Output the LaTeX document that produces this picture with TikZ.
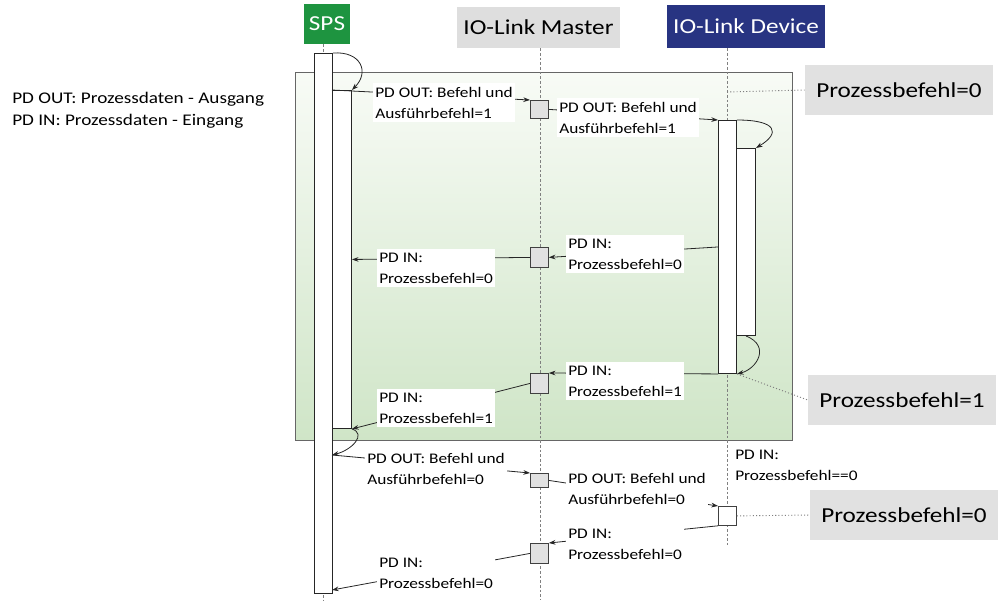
\documentclass[tikz,border=0pt]{standalone}
\usepackage{fontspec}
\setmainfont{Carlito}[FakeStretch=1.18]
\usetikzlibrary{arrows.meta}
\definecolor{spsgreen}{RGB}{30,148,64}
\definecolor{devblue}{RGB}{40,52,130}
\definecolor{hdrgrey}{RGB}{222,222,222}
\definecolor{boxgrey}{RGB}{225,225,225}
\definecolor{gtop}{RGB}{248,251,246}
\definecolor{gbot}{RGB}{207,229,199}
\begin{document}
\begin{tikzpicture}[x=0.75pt,y=-0.75pt,
 hdr/.style={inner sep=0pt, font=\fontsize{16}{19}\selectfont},
 lifeline/.style={draw=gray, line width=0.6pt, dash pattern=on 2pt off 1.5pt},
 bar/.style={draw=black!85, fill=white, line width=0.7pt, inner sep=0pt, anchor=north west},
 mbox/.style={draw=black!75, fill=boxgrey, line width=0.6pt, inner sep=0pt, anchor=north west, minimum width=13.5pt, minimum height=13.5pt},
 lbl/.style={fill=white, align=left, inner xsep=1.5pt, inner ysep=3pt, anchor=base west, font=\fontsize{11}{15.75}\selectfont},
 msg/.style={draw=black!85, line width=0.6pt, -{Stealth[length=5pt,width=3.5pt]}},
 dots/.style={draw=gray, line width=0.7pt, dash pattern=on 0.8pt off 1.6pt},
 big/.style={fill=boxgrey, inner sep=0pt, minimum width=141pt, minimum height=37.5pt, font=\fontsize{16}{19}\selectfont},
 zone/.style={top color=gtop, bottom color=gbot, draw=black!60, line width=0.8pt, inner sep=0pt, anchor=north west}]
\useasboundingbox (0,0) rectangle (998,600);
% background zone
\node[zone, minimum width=372.75pt, minimum height=276pt] (zone) at (295,72) {};
% headers
\node[hdr, fill=spsgreen, text=white, minimum width=34.5pt, minimum height=30pt] (sps) at (327,24) {SPS};
\node[hdr, fill=hdrgrey, minimum width=122.25pt, minimum height=30.75pt] (master) at (538.5,27.5) {IO-Link Master};
\node[hdr, fill=devblue, text=white, minimum width=118.5pt, minimum height=32.25pt] (device) at (746,26.5) {IO-Link Device};
% lifelines
\coordinate (spsEnd) at (323,600);
\coordinate (mEnd) at (540,600);
\coordinate (dEnd) at (727,545);
\draw[lifeline] (sps.south -| spsEnd) -- (spsEnd);
\draw[lifeline] (master.south -| mEnd) -- (mEnd);
\draw[lifeline] (device.south -| dEnd) -- (dEnd);
% activation bars
\node[bar, minimum width=13.5pt, minimum height=405pt] (sb) at (314,53) {};
\node[bar, minimum width=14.25pt, minimum height=253.5pt] (sn) at (332,90) {};
\node[bar, minimum width=13.5pt, minimum height=189.75pt] (db) at (718,120) {};
\node[bar, minimum width=14.25pt, minimum height=140.25pt] (dn) at (736,148) {};
% master boxes
\node[mbox] (m1) at (530,100) {};
\node[mbox, minimum height=15pt] (m2) at (530,247) {};
\node[mbox, minimum height=15pt] (m3) at (530,373) {};
\node[mbox, minimum height=10.5pt] (m4) at (530,473) {};
\node[mbox, minimum height=15pt] (m5) at (530,543) {};
\node[mbox, fill=white, minimum height=14.25pt] (ds) at (718,506) {};
% attachment points
\coordinate (sOut2) at (332,455);
\coordinate (sIn3) at (332,590);
\coordinate (dLife) at (727,92);
% connectors
\draw[msg] (sb.north east) .. controls +(28,-2) and +(18,-18) .. (sn.north east);
\draw[msg] (sn.north west) -- (m1.north west);
\draw[msg] (m1.east) -- (db.north west);
\draw[msg] (db.north east) .. controls +(40,0) and +(25,-15) .. (dn.north east);
\draw[msg] (dn.south) .. controls +(25,10) and +(20,-5) .. (db.south east);
\draw[msg] (db.west) -- (m2.east);
\draw[msg] (m2.west) -- (sn.east);
\draw[msg] (db.south west) -- (m3.north east);
\draw[msg] (m3.west) -- (sn.south east);
\draw[msg] (sn.south east) .. controls +(15,5) and +(20,-5) .. (sOut2);
\draw[msg] (sOut2) -- (m4.north west);
\draw[msg] (m4.east) -- (ds.north west);
\draw[msg] (ds.south west) -- (m5.north east);
\draw[msg] (m5.west) -- (sIn3);
% labels (anchor = baseline of the last line)
\node[lbl] (L1) at (373,118) {PD OUT: Befehl und\\Ausführbefehl=1};
\node[lbl] (L2) at (557,133) {PD OUT: Befehl und\\Ausführbefehl=1};
\node[lbl] (L3) at (377,283) {PD IN:\\Prozessbefehl=0};
\node[lbl] (L4) at (566,269) {PD IN:\\Prozessbefehl=0};
\node[lbl] (L5) at (566,396) {PD IN:\\Prozessbefehl=1};
\node[lbl] (L6) at (377,423) {PD IN:\\Prozessbefehl=1};
\node[lbl] (L7) at (365,484) {PD OUT: Befehl und\\Ausführbefehl=0};
\node[lbl] (L8) at (566,504) {PD OUT: Befehl und\\Ausführbefehl=0};
\node[lbl] (L9) at (566,559) {PD IN:\\Prozessbefehl=0};
\node[lbl] (L10) at (377,588) {PD IN:\\Prozessbefehl=0};
\node[lbl, fill=none] (L11) at (733,480) {PD IN:\\Prozessbefehl==0};
% legend
\node[anchor=base west, align=left, inner sep=0pt, font=\fontsize{12.2}{16.5}\selectfont] (legend) at (12,125) {PD OUT: Prozessdaten - Ausgang\\PD IN: Prozessdaten - Eingang};
% state boxes
\node[big] (P0) at (899,90) {Prozessbefehl=0};
\node[big] (P1) at (902,400) {Prozessbefehl=1};
\node[big] (P2) at (904,515) {Prozessbefehl=0};
\draw[dots] (dLife) -- (P0.west);
\draw[dots] (db.south east) -- (P1.west);
\draw[dots] (ds.east) -- (P2.west);
\end{tikzpicture}
\end{document}
